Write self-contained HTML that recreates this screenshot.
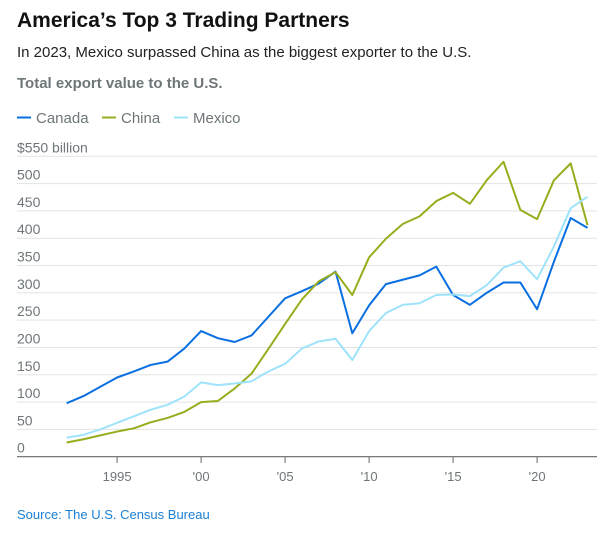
<!DOCTYPE html>
<html><head><meta charset="utf-8"><style>
html,body{margin:0;padding:0;background:#fff;width:610px;height:533px;overflow:hidden}
svg{display:block;font-family:"Liberation Sans",sans-serif}
</style></head><body>
<svg id="chart" width="610" height="533">
<text x="17" y="27" font-size="21" font-weight="bold" fill="#111">America’s Top 3 Trading Partners</text>
<text x="17" y="57" font-size="15" fill="#222">In 2023, Mexico surpassed China as the biggest exporter to the U.S.</text>
<text x="17" y="88" font-size="15" font-weight="bold" fill="#6e7679">Total export value to the U.S.</text>
<g id="legend"></g>
<g id="grid"></g>
<g id="lines"></g>
<g id="xaxis"></g>
<text x="17" y="519" font-size="13" fill="#1a7fd4">Source: The U.S. Census Bureau</text>
</svg>
<script>
const years=[1992,1993,1994,1995,1996,1997,1998,1999,2000,2001,2002,2003,2004,2005,2006,2007,2008,2009,2010,2011,2012,2013,2014,2015,2016,2017,2018,2019,2020,2021,2022,2023];
const canada=[98,111,128,145,156,168,174,198,230,217,210,222,256,290,303,317,339,226,277,316,324,332,348,296,278,300,319,319,270,357,437,419];
const china=[26,32,39,46,52,63,71,82,100,102,125,152,197,243,288,321,338,296,365,399,426,440,468,483,463,506,540,452,435,506,537,424];
const mexico=[35,40,50,62,74,86,95,110,136,131,134,138,156,170,198,211,216,177,230,263,278,281,296,297,294,314,346,358,325,385,455,476];
const yTicks=[0,50,100,150,200,250,300,350,400,450,500,550];
const yTickLabels=["0","50","100","150","200","250","300","350","400","450","500","$550 billion"];
const xTicks=[1995,2000,2005,2010,2015,2020];
const xTickLabels=["1995","'00","'05","'10","'15","'20"];
const seriesNames=["Canada","China","Mexico"];
const colors=["#0a6fe0","#97ad1e","#9fe3fb"];
const NS="http://www.w3.org/2000/svg";
const X=y=>66.7+(y-1992)*16.8;
const Y=v=>456.7-v*0.5462;
function mk(tag,attrs,parent){const e=document.createElementNS(NS,tag);for(const k in attrs)e.setAttribute(k,attrs[k]);parent.appendChild(e);return e;}
const grid=document.getElementById('grid');
yTicks.forEach((t,i)=>{
  if(t>0){const l=mk('line',{x1:17,x2:597,y1:Y(t),y2:Y(t),stroke:'#e3e3e3','stroke-width':1},grid);
  
  }
  const tx=mk('text',{x:17,y:Y(t)-4,'font-size':14,fill:'#6e7679'},grid);
  tx.textContent=yTickLabels[i];
  
  
});
const xa=document.getElementById('xaxis');
const ax=mk('line',{x1:17,x2:597,y1:456.7,y2:456.7,stroke:'#666','stroke-width':1.2},xa);


xTicks.forEach((t,i)=>{
  const tk=mk('line',{x1:X(t),x2:X(t),y1:456.7,y2:463,stroke:'#666','stroke-width':1},xa);
  
  
  const tx=mk('text',{x:X(t),y:481,'font-size':13,fill:'#6e7679','text-anchor':'middle'},xa);
  tx.textContent=xTickLabels[i];
  
  
});
const lg=document.getElementById('lines');
[canada,china,mexico].forEach((s,i)=>{
  const p=mk('polyline',{points:s.map((v,j)=>X(years[j])+','+Y(v)).join(' '),fill:'none',stroke:colors[i],'stroke-width':2,'stroke-linejoin':'round'},lg);
  
  
});
const leg=document.getElementById('legend');
let lx=17;
const legW=[85,72,80];
seriesNames.forEach((n,i)=>{
  const l=mk('line',{x1:lx,x2:lx+14,y1:117.5,y2:117.5,stroke:colors[i],'stroke-width':2},leg);
  
  
  const t=mk('text',{x:lx+19,y:123,'font-size':15,fill:'#6e7679'},leg);
  t.textContent=n;
  
  
  lx+=legW[i];
});
</script>
</body></html>
